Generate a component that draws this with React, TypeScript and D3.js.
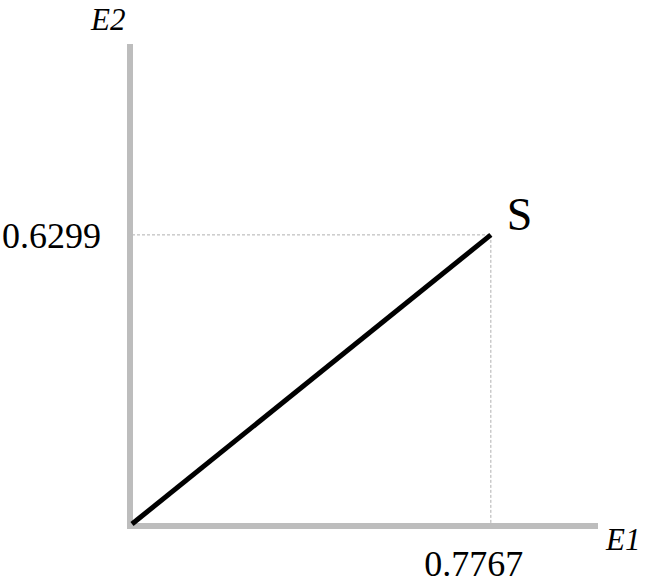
import * as d3 from 'd3';

const POINT_LABEL = 'S';
const POINT_X = 0.7767;
const POINT_Y = 0.6299;
const X_LABEL = 'E1';
const Y_LABEL = 'E2';
const X_TICK_LABELS = ['0.7767'];
const Y_TICK_LABELS = ['0.6299'];

export default function App() {
  const w = 650;
  const h = 584;

  const x = d3.scaleLinear().domain([0, 1]).range([132, 594]);
  const y = d3.scaleLinear().domain([0, 1]).range([524, 65]);

  const line = d3.line<[number, number]>()
    .x(d => x(d[0]))
    .y(d => y(d[1]));

  const font = '"Liberation Serif", "Times New Roman", serif';
  const axisColor = '#bdbdbd';

  return (
    <svg width={w} height={h} style={{ position: 'absolute', left: 0, top: 0, background: '#fff' }}>
      {/* Guides */}
      <line x1={x(0)} x2={x(POINT_X)} y1={y(POINT_Y)} y2={y(POINT_Y)} stroke="#b0b0b0" strokeWidth={1} strokeDasharray="3 2" />
      <line x1={x(POINT_X)} x2={x(POINT_X)} y1={y(POINT_Y)} y2={y(0)} stroke="#b0b0b0" strokeWidth={1} strokeDasharray="3 2" />

      {/* Axes */}
      <line x1={x(0) - 2} x2={x(0) - 2} y1={44} y2={y(0) + 5} stroke={axisColor} strokeWidth={6} />
      <line x1={x(0) - 5} x2={598} y1={y(0) + 2} y2={y(0) + 2} stroke={axisColor} strokeWidth={6} />

      {/* Vector */}
      <path d={line([[0, 0], [POINT_X, POINT_Y]]) ?? ''} stroke="#000" strokeWidth={5} fill="none" />

      {/* Labels */}
      <text x={x(POINT_X) + 16} y={y(POINT_Y) - 5} fontSize={46} fontFamily={font} fill="#000">{POINT_LABEL}</text>
      <text x={x(POINT_X) - 17} y={576} textAnchor="middle" fontSize={36} fontFamily={font} fill="#000">{X_TICK_LABELS[0]}</text>
      <text x={101} y={y(POINT_Y) + 13} textAnchor="end" fontSize={36} fontFamily={font} fill="#000">{Y_TICK_LABELS[0]}</text>
      <text x={606} y={550} fontSize={31} fontStyle="italic" fontFamily={font} fill="#000">{X_LABEL}</text>
      <text x={91} y={30} fontSize={31} fontStyle="italic" fontFamily={font} fill="#000">{Y_LABEL}</text>
    </svg>
  );
}
